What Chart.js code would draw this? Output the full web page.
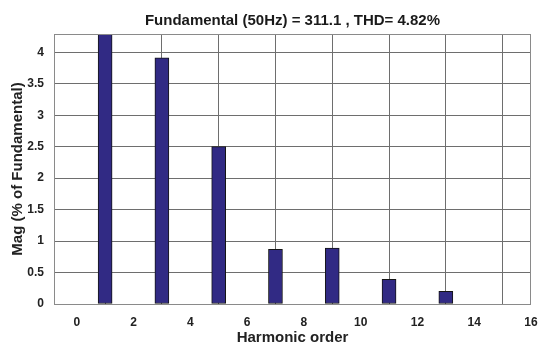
<!DOCTYPE html>
<html>
<head>
<meta charset="utf-8">
<script src="https://cdn.jsdelivr.net/npm/chart.js@4"></script>
<style>
  html,body{margin:0;padding:0;background:#fff;}
  #wrap{width:541px;height:347px;}
</style>
</head>
<body>
<div id="wrap"><canvas id="thdChart" width="541" height="347"></canvas></div>
<script>
// Harmonic spectrum (MATLAB FFT style)
const harmonicOrders = [1, 3, 5, 7, 9, 11, 13];
const magnitudes     = [4.6, 3.91, 2.5, 0.87, 0.89, 0.39, 0.2];
const xTickValues    = [0, 2, 4, 6, 8, 10, 12, 14, 16];
const yTickValues    = [0, 0.5, 1, 1.5, 2, 2.5, 3, 3.5, 4];
const chartTitle     = 'Fundamental (50Hz) = 311.1 , THD= 4.82%';

const FONT = 'Liberation Sans, Arial, Helvetica, sans-serif';

// cadre gris autour de la zone de tracé
const boxPlugin = {
  id:'box',
  afterDatasetsDraw(chart){
    const {ctx, chartArea:a} = chart;
    ctx.save();
    ctx.strokeStyle='#8a8a8a'; ctx.lineWidth=1;
    ctx.strokeRect(Math.round(a.left)+0.5, Math.round(a.top)+0.5, Math.round(a.right-a.left)-1, Math.round(a.bottom-a.top));
    ctx.restore();
  }
};

new Chart(document.getElementById('thdChart'), {
  type:'bar',
  data:{
    datasets:[{
      data: harmonicOrders.map((h,i)=>({x:h, y:magnitudes[i]})),
      backgroundColor:'#312a84', borderColor:'#151515', borderWidth:1,
      barThickness:14, borderSkipped:false,
    }]
  },
  options:{
    responsive:false, animation:false,
    layout:{ padding:{left:0, right:10, top:0, bottom:0} },
    plugins:{
      legend:{display:false}, tooltip:{enabled:false},
      title:{ display:true, text:chartTitle, fullSize:false, color:'#1a1a1a',
              font:{family:FONT, size:15, weight:'bold'}, padding:{top:12, bottom:4} },
    },
    scales:{
      x:{
        type:'linear', min:-0.8, max:16, offset:false,
        afterBuildTicks:s=>{ s.ticks = xTickValues.map(v=>({value:v})); },
        afterFit:s=>{ s.height = 43; s.paddingLeft = 0; s.paddingRight = 0; },
        grid:{ color:'#6e6e6e', drawTicks:false },
        border:{ display:false },
        ticks:{ color:'#222', padding:11, maxRotation:0, callback:v=>String(v),
                font:{family:FONT, size:12, weight:'bold'} },
        title:{ display:true, text:'Harmonic order', color:'#222', padding:{top:0, bottom:0},
                font:{family:FONT, size:15, weight:'bold'} },
      },
      y:{
        min:0, max:4.29,
        afterBuildTicks:s=>{ s.ticks = yTickValues.map(v=>({value:v})); },
        afterFit:s=>{ s.width = 54; s.paddingTop = 0; s.paddingBottom = 0; },
        grid:{ color:'#6e6e6e', drawTicks:false },
        border:{ display:false },
        ticks:{ color:'#222', padding:10, callback:v=>String(v),
                font:{family:FONT, size:12, weight:'bold'} },
        title:{ display:true, text:'Mag (% of Fundamental)', color:'#222', padding:{top:9, bottom:0},
                font:{family:FONT, size:15, weight:'bold'} },
      },
    },
  },
  plugins:[boxPlugin],
});
</script>
</body>
</html>
